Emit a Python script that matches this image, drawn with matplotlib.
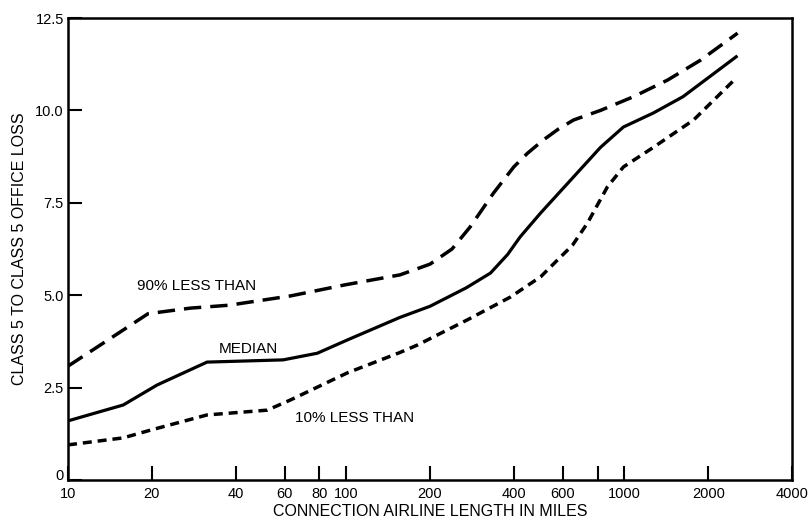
import matplotlib
matplotlib.use("Agg")
import matplotlib.pyplot as plt
import matplotlib.transforms as mtransforms
from matplotlib.ticker import FixedLocator, FixedFormatter, NullLocator

plt.rcParams['font.family'] = ['Liberation Sans', 'DejaVu Sans']

# data
x90 = [10, 14, 19.4, 27.5, 38, 63, 99, 156, 200, 240, 279, 338, 400, 448, 511, 580, 656, 820, 1077, 1428, 1877, 2550]
y90 = [3.08, 3.8, 4.5, 4.65, 4.73, 4.98, 5.28, 5.55, 5.84, 6.25, 6.85, 7.76, 8.47, 8.84, 9.2, 9.5, 9.74, 10.0, 10.37, 10.82, 11.36, 12.09]

xmed = [10, 15.8, 20.9, 31.6, 59.3, 78.7, 101, 156, 200, 270, 330, 380, 422, 499, 656, 820, 991, 1270, 1622, 2520]
ymed = [1.6, 2.03, 2.57, 3.19, 3.25, 3.43, 3.79, 4.4, 4.7, 5.2, 5.6, 6.1, 6.58, 7.22, 8.2, 9.0, 9.55, 9.93, 10.37, 11.45]

x10 = [10, 15.8, 19.8, 31.6, 52, 62.8, 101, 156, 180, 272, 389, 500, 574, 650, 736, 868, 991, 1270, 1771, 2500]
y10 = [0.95, 1.14, 1.35, 1.76, 1.89, 2.16, 2.9, 3.45, 3.65, 4.33, 4.95, 5.5, 5.95, 6.35, 6.95, 7.93, 8.47, 9.0, 9.74, 10.85]

xticks = [10, 20, 40, 60, 80, 100, 200, 400, 600, 800, 1000, 2000, 4000]
xticklabels = ['10', '20', '40', '60', '80', '100', '200', '400', '600', '', '1000', '2000', '4000']
yticks = [0, 2.5, 5.0, 7.5, 10.0, 12.5]
yticklabels = ['0', '2.5', '5.0', '7.5', '10.0', '12.5']

fig = plt.figure(figsize=(8.1, 5.22), dpi=100)
ax = fig.add_axes([68/810, 42/522, (792-68)/810, (480-18)/522])

ax.plot(x90, y90, color='black', lw=2.5, dashes=(5, 2.6), solid_capstyle='butt')
ax.plot(xmed, ymed, color='black', lw=2.3)
ax.plot(x10, y10, color='black', lw=2.5, dashes=(2.6, 1.7))

ax.set_xscale('log')
ax.set_xlim(10, 4000)
ax.set_ylim(0, 12.5)
ax.xaxis.set_major_locator(FixedLocator(xticks))
ax.xaxis.set_major_formatter(FixedFormatter(xticklabels))
ax.xaxis.set_minor_locator(NullLocator())
ax.set_yticks(yticks)
ax.set_yticklabels(yticklabels)

ax.tick_params(axis='x', direction='in', length=10, width=1.5, labelsize=10.5, pad=5)
ax.tick_params(axis='y', direction='in', length=10, width=1.5, labelsize=10.5, pad=3)
for s in ax.spines.values():
    s.set_linewidth(1.8)

# lift the "0" label slightly so it clears the "10" label, as in the original
zero_lbl = ax.get_yticklabels()[0]
zero_lbl.set_transform(zero_lbl.get_transform() +
                       mtransforms.ScaledTranslation(0, 5/100, fig.dpi_scale_trans))

ax.set_xlabel('CONNECTION AIRLINE LENGTH IN MILES', fontsize=11.5, labelpad=2)
ax.set_ylabel('CLASS 5 TO CLASS 5 OFFICE LOSS', fontsize=11.5, labelpad=6)

ax.text(28.9, 5.25, '90% LESS THAN', fontsize=11, ha='center', va='center')
ax.text(44.4, 3.54, 'MEDIAN', fontsize=11, ha='center', va='center')
ax.text(107, 1.68, '10% LESS THAN', fontsize=11, ha='center', va='center')

fig.savefig('out.png', dpi=100)
